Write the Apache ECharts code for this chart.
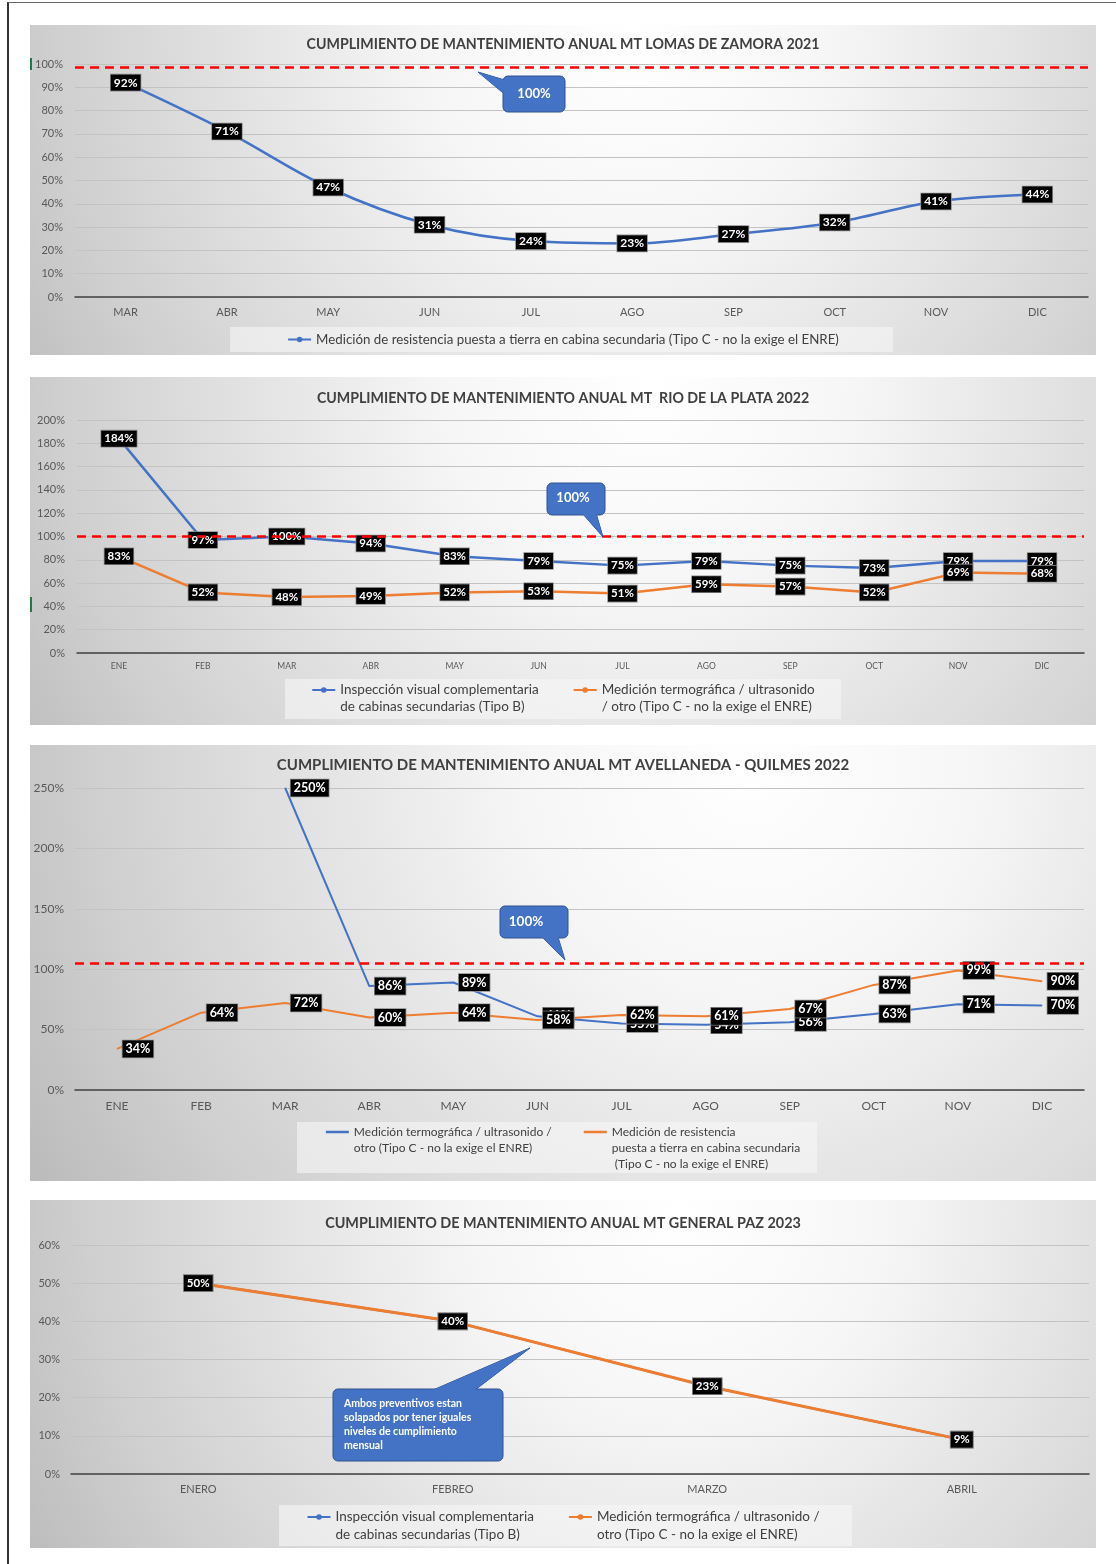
<!DOCTYPE html>
<html><head><meta charset="utf-8">
<script src="https://cdn.jsdelivr.net/npm/echarts@6/dist/echarts.min.js"></script>
<style>
html,body{margin:0;padding:0;background:#fff;}
body{width:1116px;height:1564px;position:relative;overflow:hidden;}
.frame{position:absolute;left:7px;top:2px;width:1200px;height:1600px;border-left:2px solid #333;border-top:1px solid #666;}
.panel{position:absolute;left:30px;width:1066px;}
</style></head><body>
<div class="frame"></div>
<div id="c1" class="panel" style="top:25px;height:330px"></div>
<div id="c2" class="panel" style="top:377px;height:348px"></div>
<div id="c3" class="panel" style="top:745px;height:436px"></div>
<div id="c4" class="panel" style="top:1200px;height:348px"></div>
<script>
// ---------- DATA ----------
const months1 = ['MAR','ABR','MAY','JUN','JUL','AGO','SEP','OCT','NOV','DIC'];
const lomasResist = [92,71,47,31,24,23,27,32,41,44];
const target1 = 98.5;

const months2 = ['ENE','FEB','MAR','ABR','MAY','JUN','JUL','AGO','SEP','OCT','NOV','DIC'];
const rioVisual = [184,97,100,94,83,79,75,79,75,73,79,79];
const rioTermo = [83,52,48,49,52,53,51,59,57,52,69,68];
const target2 = 100;

const months3 = ['ENE','FEB','MAR','ABR','MAY','JUN','JUL','AGO','SEP','OCT','NOV','DIC'];
const avTermo = [null,null,250,86,89,61,55,54,56,63,71,70];
const avResist = [34,64,72,60,64,58,62,61,67,87,99,90];
const target3 = 105;

const months4 = ['ENERO','FEBREO','MARZO','ABRIL'];
const gpVisual = [50,40,23,9];
const gpTermo = [50,40,23,9];

const yTicks1 = {min:0, max:100, interval:10};
const yTicks2 = {min:0, max:200, interval:20};
const yTicks3 = {min:0, max:250, interval:50};
const yTicks4 = {min:0, max:60, interval:10};

// ---------- STYLE HELPERS ----------
const FONT = 'Lato';
const BLUE = '#4472C4', ORANGE = '#ED7D31', RED = '#FF0000';
const TXT = '#404040', AX = '#595959';
const LEG_BG = 'rgba(246,246,246,0.6)';

function bg(w,h,cx,cy,r){
  return {type:'rect', silent:true, z:-100, shape:{x:0,y:0,width:w,height:h},
    style:{fill:{type:'radial', x:cx, y:cy, r:r, global:true, colorStops:[
      {offset:0,color:'#ffffff'},{offset:0.28,color:'#f6f6f6'},{offset:0.55,color:'#e2e2e2'},{offset:0.8,color:'#cfcfcf'},{offset:1,color:'#bcbcbc'}]}}};
}
function legBox(x,y,w,h){ return {type:'rect', silent:true, z:-50, shape:{x:x,y:y,width:w,height:h}, style:{fill:LEG_BG}}; }
function greenMark(y,h){ return {type:'rect', silent:true, z:60, shape:{x:0,y:y,width:2,height:h}, style:{fill:'#1e7b45'}}; }
function callout(box, tail, tStyle){
  return [
    {type:'polygon', silent:true, z:50, shape:{points:tail}, style:{fill:BLUE, stroke:'#2F528F', lineWidth:1}},
    {type:'rect', silent:true, z:51, shape:{x:box[0],y:box[1],width:box[2],height:box[3],r:5}, style:{fill:BLUE, stroke:'#2F528F', lineWidth:1}},
    {type:'polygon', silent:true, z:52, shape:{points:tail}, style:{fill:BLUE}},
    Object.assign({type:'text', silent:true, z:53}, tStyle)
  ];
}
function lab(fs,pos,dist){
  return {show:true, position:pos, distance:dist||5, formatter:'{c}%', color:'#fff', fontWeight:'bold', fontSize:fs, fontFamily:FONT,
    backgroundColor:'#000', borderColor:'#8a8a8a', borderWidth:0.8, padding:[2,3,2,3]};
}
function titleOf(text, top, fs){
  return {text:text, left:'center', top:top, textStyle:{fontFamily:FONT, fontSize:fs, fontWeight:'bold', color:TXT}};
}
function xAx(data, fs, margin){
  return {type:'category', data:data, axisTick:{show:false}, axisLine:{lineStyle:{color:'#404040', width:1.5}},
    axisLabel:{color:AX, fontSize:fs, margin:margin, fontFamily:FONT}};
}
function yAx(t, fs, margin){
  return Object.assign({type:'value', axisLabel:{formatter:'{value}%', color:AX, fontSize:fs, margin:margin, fontFamily:FONT},
    axisLine:{show:false}, axisTick:{show:false}, splitLine:{lineStyle:{color:'#c3c3c3', width:1}}}, t);
}
function refLine(v){
  return {type:'line', data:[], z:10, silent:true, markLine:{silent:true, symbol:'none', label:{show:false},
    lineStyle:{color:RED, type:[9,6], width:2.5}, emphasis:{disabled:true}, data:[{yAxis:v}]}};
}
// multi-line legend: leading blank lines keep the icon level with the first text line
function legendML(names, top, gap, fs, lh, extra){
  return Object.assign({data:names, formatter: name => '\n'.repeat(name.split('\n').length - 1) + name,
    top:top, left:'center', itemWidth:23, itemHeight:7, itemGap:gap, padding:0,
    textStyle:{fontFamily:FONT, fontSize:fs, color:TXT, lineHeight:lh}}, extra||{});
}

// ---------- CHART 1 ----------
const n1 = 'Medición de resistencia puesta a tierra en cabina secundaria (Tipo C - no la exige el ENRE)';
echarts.init(document.getElementById('c1')).setOption({
  animation:false,
  graphic:[bg(1066,330,600,15,720), greenMark(33,12)].concat(
    callout([473,51,62,36], [[448,47],[478,56],[478,72]],
      {style:{text:'100%', x:504, y:69, textAlign:'center', textVerticalAlign:'middle', fill:'#fff', font:'bold 13px Lato'}})),
  title:titleOf('CUMPLIMIENTO DE MANTENIMIENTO ANUAL MT LOMAS DE ZAMORA 2021', 7, 14.2),
  grid:{left:45, right:8, top:39, bottom:58},
  xAxis:xAx(months1, 11, 10),
  yAxis:yAx(yTicks1, 11, 12),
  legend:{data:[n1], top:302, left:'center', itemWidth:23, itemHeight:7, padding:[5,54,5,57], backgroundColor:LEG_BG,
    textStyle:{fontFamily:FONT, fontSize:13.3, color:TXT, lineHeight:15}},
  series:[
    {type:'line', name:n1, data:lomasResist, smooth:0.35, symbol:'circle', symbolSize:6,
      lineStyle:{color:BLUE, width:2.5}, itemStyle:{color:BLUE}, label:lab(12,'inside')},
    refLine(target1)
  ]
});

// ---------- CHART 2 ----------
const n2a = 'Inspección visual complementaria\nde cabinas secundarias (Tipo B)';
const n2b = 'Medición termográfica / ultrasonido\n/ otro (Tipo C - no la exige el ENRE)';
echarts.init(document.getElementById('c2')).setOption({
  animation:false,
  graphic:[bg(1066,348,620,10,740), greenMark(220,15), legBox(255,302,556,40)].concat(
    callout([517,106,58,32], [[552,136],[566,136],[573,160]],
      {style:{text:'100%', x:543, y:121, textAlign:'center', textVerticalAlign:'middle', fill:'#fff', font:'bold 13px Lato'}})),
  title:titleOf('CUMPLIMIENTO DE MANTENIMIENTO ANUAL MT  RIO DE LA PLATA 2022', 9, 14.2),
  grid:{left:47, right:12, top:43, bottom:72},
  xAxis:xAx(months2, 8.5, 9),
  yAxis:yAx(yTicks2, 11, 12),
  legend:legendML([n2a,n2b], 287.5, 34, 13.5, 17),
  series:[
    {type:'line', name:n2a, data:rioVisual, symbol:'circle', symbolSize:6,
      lineStyle:{color:BLUE, width:2.5}, itemStyle:{color:BLUE}, label:lab(11.5,'inside')},
    {type:'line', name:n2b, data:rioTermo, symbol:'circle', symbolSize:6,
      lineStyle:{color:ORANGE, width:2.5}, itemStyle:{color:ORANGE}, label:lab(11.5,'inside')},
    refLine(target2)
  ]
});

// ---------- CHART 3 ----------
const n3a = 'Medición termográfica / ultrasonido /\notro (Tipo C - no la exige el ENRE)';
const n3b = 'Medición de resistencia\npuesta a tierra en cabina secundaria\n (Tipo C - no la exige el ENRE)';
echarts.init(document.getElementById('c3')).setOption({
  animation:false,
  graphic:[bg(1066,436,720,20,820), legBox(267,377,520,51)].concat(
    callout([470,161,68,32], [[512,192],[528,192],[535,215]],
      {style:{text:'100%', x:496, y:177, textAlign:'center', textVerticalAlign:'middle', fill:'#fff', font:'bold 13.5px Lato'}})),
  title:titleOf('CUMPLIMIENTO DE MANTENIMIENTO ANUAL MT AVELLANEDA - QUILMES 2022', 8, 15),
  grid:{left:45, right:12, top:43, bottom:91},
  xAxis:xAx(months3, 12, 10),
  yAxis:yAx(yTicks3, 12, 11),
  legend:legendML([n3a,n3b], 347, 32, 12, 16, {icon:'rect', itemHeight:2.5}),
  series:[
    {type:'line', name:n3a, data:avTermo, symbol:'circle', symbolSize:1,
      lineStyle:{color:BLUE, width:2}, itemStyle:{color:BLUE}, label:lab(12.5,'right',5)},
    {type:'line', name:n3b, data:avResist, symbol:'circle', symbolSize:1,
      lineStyle:{color:ORANGE, width:2}, itemStyle:{color:ORANGE}, label:lab(12.5,'right',5)},
    refLine(target3)
  ]
});

// ---------- CHART 4 ----------
const n4a = 'Inspección visual complementaria\nde cabinas secundarias (Tipo B)';
const n4b = 'Medición termográfica / ultrasonido /\notro (Tipo C - no la exige el ENRE)';
echarts.init(document.getElementById('c4')).setOption({
  animation:false,
  graphic:[bg(1066,348,650,10,740), legBox(249,305,573,41)].concat(
    callout([303,189,170,72], [[403,190],[445,190],[500,148]],
      {style:{text:'Ambos preventivos estan\nsolapados por tener iguales\nniveles de cumplimiento\nmensual', x:314, y:196, textAlign:'left', textVerticalAlign:'top', fill:'#fff', font:'bold 10.5px Lato', lineHeight:14.3}})),
  title:titleOf('CUMPLIMIENTO DE MANTENIMIENTO ANUAL MT GENERAL PAZ 2023', 11, 14.4),
  grid:{left:41, right:7, top:45, bottom:74},
  xAxis:xAx(months4, 11, 10),
  yAxis:yAx(yTicks4, 11, 11),
  legend:legendML([n4a,n4b], 290, 34, 13.5, 18),
  series:[
    {type:'line', name:n4a, data:gpVisual, symbol:'circle', symbolSize:6,
      lineStyle:{color:BLUE, width:2.2}, itemStyle:{color:BLUE}, label:lab(11.5,'inside')},
    {type:'line', name:n4b, data:gpTermo, symbol:'circle', symbolSize:6,
      lineStyle:{color:ORANGE, width:3}, itemStyle:{color:ORANGE}, label:lab(11.5,'inside')}
  ]
});
</script>
</body></html>
